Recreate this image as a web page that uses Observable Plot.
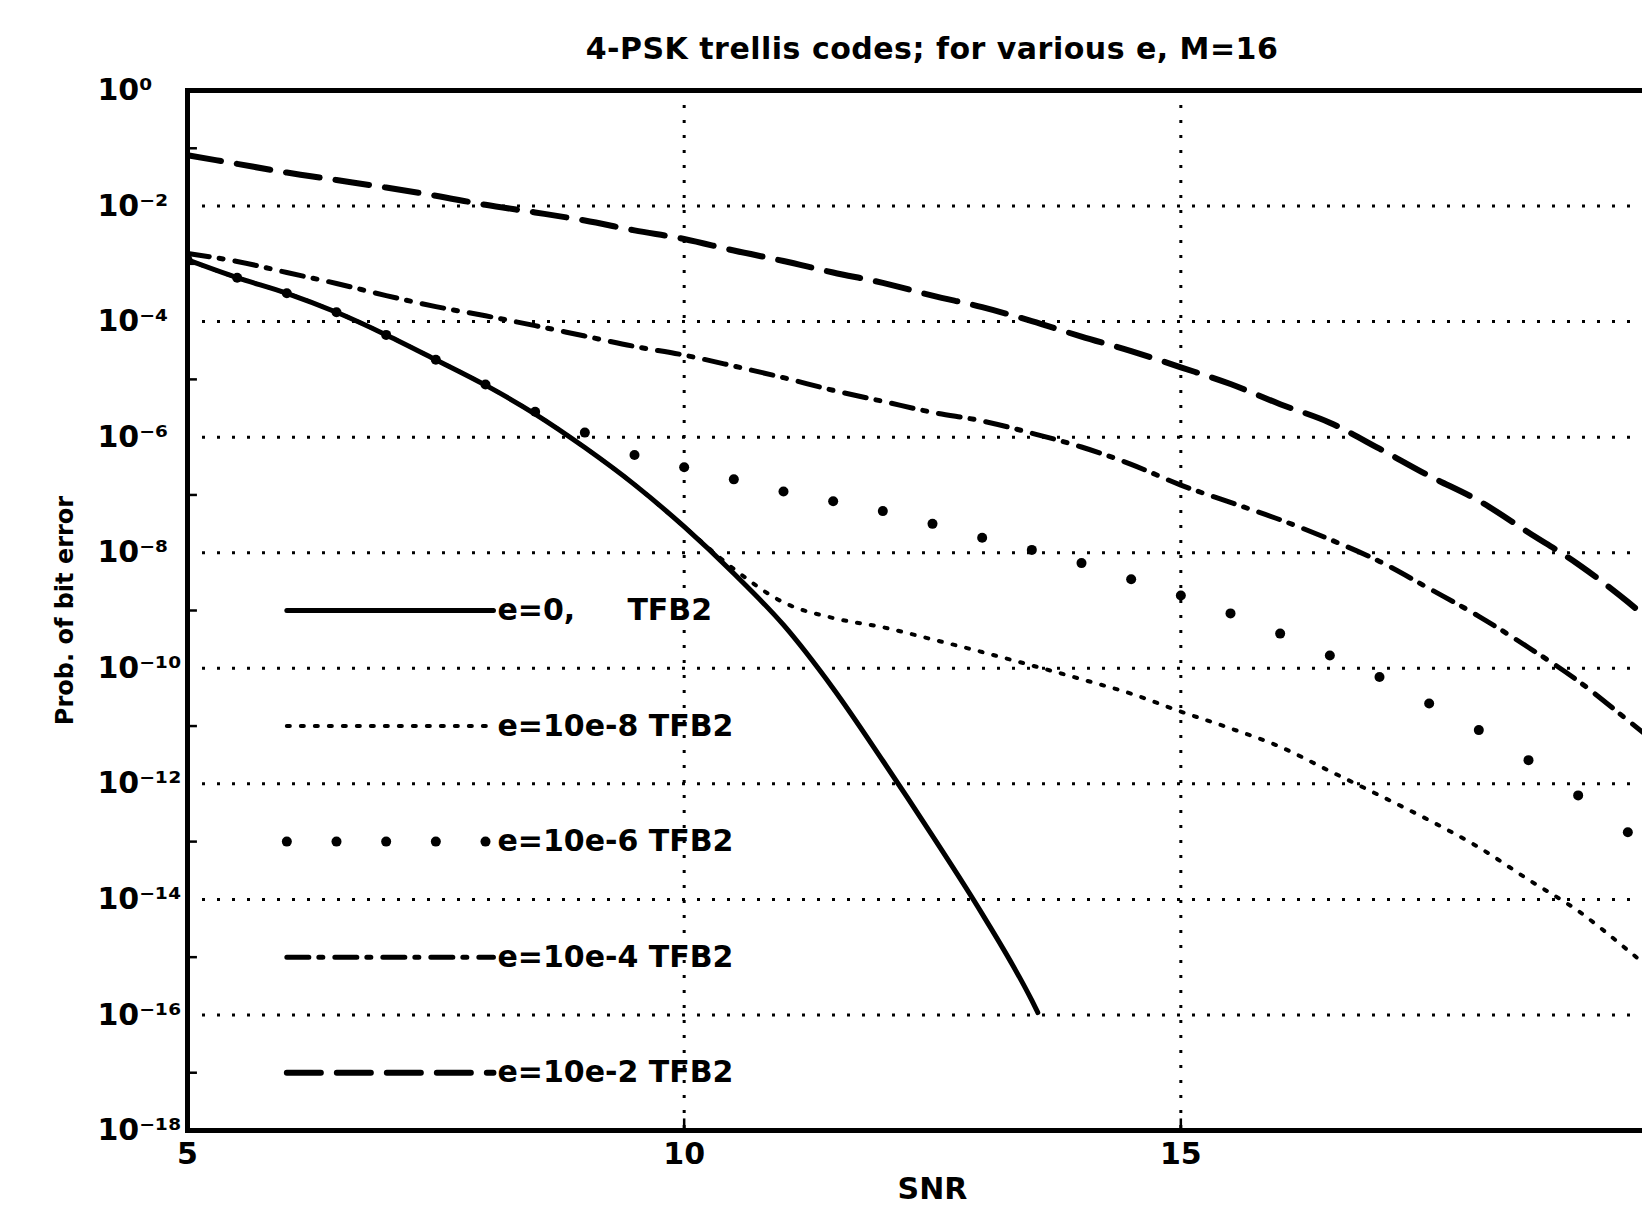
<!DOCTYPE html>
<html>
<head>
<meta charset="utf-8">
<script src="https://cdn.jsdelivr.net/npm/d3@7"></script>
<script src="https://cdn.jsdelivr.net/npm/@observablehq/plot@0.6"></script>
<style>
  html, body { margin: 0; padding: 0; background: #fff; overflow: hidden; width: 1642px; height: 1220px; }
  #title { position: absolute; top: 34px; left: 932px; transform: translateX(-50%); white-space: nowrap;
           font-family: "DejaVu Sans", sans-serif; font-weight: bold; font-size: 30px; line-height: 30px; color: #000; letter-spacing: 0.5px; }
  #chart { position: absolute; top: 70px; left: 0; }
  #chart svg { max-width: none !important; }
</style>
</head>
<body>
<div id="title">4-PSK trellis codes; for various e, M=16</div>
<div id="chart"></div>
<script>
// ---------- data ----------
const snrStep = [5,5.5,6,6.5,7,7.5,8,8.5,9,9.5,10,10.5,11,11.5,12,12.5,13,13.5,14,14.5,15,15.5,16,16.5,17,17.5,18,18.5,19,19.5,20];
const snrE0 = [5,5.5,6,6.5,7,7.5,8,8.5,9,9.5,10,10.5,11,11.5,12,12.5,13,13.5,13.56];

// e = 0 (solid)
const berE0 = [1.17e-3,5.75e-4,3.09e-4,1.45e-4,5.89e-5,2.19e-5,7.94e-6,2.51e-6,6.61e-7,1.51e-7,2.82e-8,4.37e-9,5.62e-10,4.47e-11,2.51e-12,1.26e-13,5.62e-15,1.78e-16,1.1e-16];
// e = 10e-8 (fine dotted)
const berE8 = [1.17e-3,5.75e-4,3.09e-4,1.45e-4,5.89e-5,2.19e-5,7.94e-6,2.51e-6,6.61e-7,1.51e-7,2.82e-8,5.25e-9,1.38e-9,7.41e-10,5.13e-10,3.16e-10,1.91e-10,1.12e-10,6.46e-11,3.63e-11,1.78e-11,9.12e-12,4.37e-12,1.66e-12,6.31e-13,2.34e-13,7.94e-14,2.19e-14,6.31e-15,1.32e-15,2.51e-16];
// e = 10e-6 (point markers)
const berE6 = [1.17e-3,5.75e-4,3.09e-4,1.45e-4,5.89e-5,2.19e-5,8.13e-6,2.75e-6,1.20e-6,4.90e-7,3.02e-7,1.86e-7,1.15e-7,7.76e-8,5.25e-8,3.16e-8,1.82e-8,1.12e-8,6.61e-9,3.47e-9,1.82e-9,8.91e-10,3.98e-10,1.66e-10,7.08e-11,2.45e-11,8.51e-12,2.57e-12,6.31e-13,1.45e-13,3.16e-14];
// e = 10e-4 (dash-dot)
const berE4 = [1.51e-3,1.10e-3,7.08e-4,4.57e-4,2.82e-4,1.82e-4,1.26e-4,8.51e-5,5.62e-5,3.72e-5,2.63e-5,1.70e-5,1.07e-5,6.46e-6,4.17e-6,2.69e-6,1.91e-6,1.17e-6,6.76e-7,3.39e-7,1.48e-7,7.41e-8,3.72e-8,1.70e-8,7.08e-9,2.40e-9,7.94e-10,2.29e-10,6.03e-11,1.26e-11,2.51e-12];
// e = 10e-2 (dashed)
const berE2 = [7.59e-2,5.37e-2,3.80e-2,2.82e-2,2.09e-2,1.51e-2,1.05e-2,7.76e-3,5.62e-3,3.80e-3,2.69e-3,1.70e-3,1.12e-3,7.08e-4,4.68e-4,2.82e-4,1.78e-4,1.02e-4,5.50e-5,3.09e-5,1.62e-5,8.32e-6,3.72e-6,1.78e-6,6.31e-7,2.14e-7,7.94e-8,2.24e-8,6.31e-9,1.41e-9,2.51e-10];

const seriesLabels = ["e=0,     TFB2", "e=10e-8 TFB2", "e=10e-6 TFB2", "e=10e-4 TFB2", "e=10e-2 TFB2"];
const xTicks = [5, 10, 15];
const xGrid = [10, 15, 20];
const yTickExponents = [0, -2, -4, -6, -8, -10, -12, -14, -16, -18];
const yMinorExponents = [-1, -3, -5, -7, -9, -11, -13, -15, -17];

const title = "4-PSK trellis codes; for various e, M=16";
const xLabel = "SNR";
const yLabel = "Prob. of bit error";

// ---------- build ----------
const toRows = (xs, ys) => xs.map((x, i) => ({x, y: ys[i]}));
const e0 = toRows(snrE0, berE0);
const e8 = toRows(snrStep, berE8);
const e6 = toRows(snrStep, berE6);
const e4 = toRows(snrStep, berE4);
const e2 = toRows(snrStep, berE2);

const styles = [
  {stroke: "#000", strokeWidth: 5},
  {stroke: "#000", strokeWidth: 4, strokeDasharray: "3,11"},
  null,
  {stroke: "#000", strokeWidth: 5, strokeDasharray: "22,10,4,12"},
  {stroke: "#000", strokeWidth: 6, strokeDasharray: "34,16"}
];

const sup = {"-": "\u207B", "0": "\u2070", "1": "\u00B9", "2": "\u00B2", "3": "\u00B3", "4": "\u2074",
             "5": "\u2075", "6": "\u2076", "7": "\u2077", "8": "\u2078", "9": "\u2079"};
const fmtPow = v => "10" + String(Math.round(Math.log10(v))).split("").map(c => sup[c]).join("");

const yTicks = yTickExponents.map(e => 10 ** e);
const yGrid = yTicks.filter(v => v < 1 && v > 1e-18);
const yMinor = yMinorExponents.map(e => 10 ** e);

// legend layout (in data units: sample from SNR 6 to ~8.1, rows midway between grid lines)
const legX0 = 6, legX1 = 8.08, legTextX = 8.12;
const legY = i => 10 ** (-9 - 2 * i);
const legLine = i => [{x: legX0, y: legY(i)}, {x: legX1, y: legY(i)}];
const legDots = snrStep.filter(x => x >= legX0 && x <= legX1).map(x => ({x, y: legY(2)}));
const legText = seriesLabels.map((t, i) => ({x: legTextX, y: legY(i), t}));

const gridStyle = {stroke: "#000", strokeWidth: 3, strokeDasharray: "3,12"};

const chart = Plot.plot({
  width: 1680,
  height: 1150,
  marginLeft: 187,
  marginRight: 3,
  marginTop: 20,
  marginBottom: 90,
  style: {fontFamily: "DejaVu Sans, sans-serif", fontWeight: "bold", fontSize: "30px", color: "#000", background: "#fff"},
  x: {domain: [5, 20]},
  y: {type: "log", domain: [1e-18, 1]},
  marks: [
    Plot.ruleY(yGrid, gridStyle),
    Plot.ruleX(xGrid, gridStyle),
    Plot.ruleY(yMinor, {x1: 5, x2: 5.1, stroke: "#000", strokeWidth: 2.5}),
    Plot.ruleX(xGrid, {y1: 1e-18, y2: 10 ** -17.8, stroke: "#000", strokeWidth: 2.5}),
    Plot.line(e8, {x: "x", y: "y", ...styles[1], curve: "monotone-x", clip: true}),
    Plot.line(e4, {x: "x", y: "y", ...styles[3], curve: "monotone-x", clip: true}),
    Plot.line(e2, {x: "x", y: "y", ...styles[4], curve: "monotone-x", clip: true}),
    Plot.line(e0, {x: "x", y: "y", ...styles[0], curve: "monotone-x", clip: true}),
    Plot.dot(e6, {x: "x", y: "y", r: 5, fill: "#000", stroke: "none", clip: true}),
    // legend
    Plot.line(legLine(0), {x: "x", y: "y", ...styles[0]}),
    Plot.line(legLine(1), {x: "x", y: "y", ...styles[1]}),
    Plot.dot(legDots, {x: "x", y: "y", r: 5, fill: "#000", stroke: "none"}),
    Plot.line(legLine(3), {x: "x", y: "y", ...styles[3]}),
    Plot.line(legLine(4), {x: "x", y: "y", ...styles[4]}),
    Plot.text(legText, {x: "x", y: "y", text: "t", textAnchor: "start", lineAnchor: "middle", fontSize: 30, fontWeight: "bold", fill: "#000"}),
    Plot.frame({stroke: "#000", strokeWidth: 5}),
    Plot.axisX({ticks: xTicks, tickSize: 0, tickPadding: 12, fontSize: 30, fontWeight: "bold", label: null}),
    Plot.axisY({ticks: yTicks, tickSize: 0, tickPadding: 90, textAnchor: "start", tickFormat: fmtPow, fontSize: 30, fontWeight: "bold", label: null}),
    Plot.text([xLabel], {frameAnchor: "bottom", dy: 59, textAnchor: "middle", lineAnchor: "middle", fontSize: 30, fontWeight: "bold", fill: "#000"}),
    Plot.text([yLabel], {frameAnchor: "left", rotate: -90, dx: -122, textAnchor: "middle", lineAnchor: "middle", fontSize: 24, fontWeight: "bold", fill: "#000"})
  ]
});
document.getElementById("chart").appendChild(chart);
document.getElementById("title").textContent = title;
</script>
</body>
</html>
